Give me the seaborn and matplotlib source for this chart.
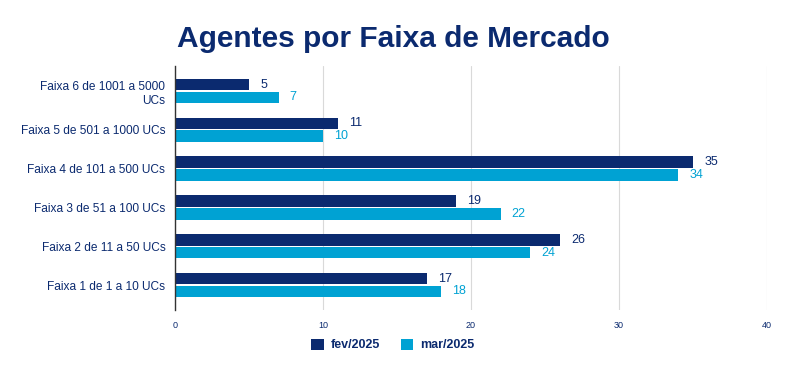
import numpy as np
import pandas as pd
import matplotlib
matplotlib.use("Agg")
import matplotlib.pyplot as plt
import seaborn as sns

# data
faixas = ["Faixa 6 de 1001 a 5000\nUCs", "Faixa 5 de 501 a 1000 UCs", "Faixa 4 de 101 a 500 UCs",
          "Faixa 3 de 51 a 100 UCs", "Faixa 2 de 11 a 50 UCs", "Faixa 1 de 1 a 10 UCs"]
fev = [5, 11, 35, 19, 26, 17]
mar = [7, 10, 34, 22, 24, 18]
series = ["fev/2025", "mar/2025"]
ticks = [0, 10, 20, 30, 40]

navy = "#0B2A6F"
light = "#00A2D3"

df = pd.DataFrame({
    "faixa": faixas * 2,
    "valor": fev + mar,
    "mes": [series[0]] * len(faixas) + [series[1]] * len(faixas),
})

sns.set_style("white")
plt.rcParams["font.family"] = ["Liberation Sans", "DejaVu Sans"]

fig = plt.figure(figsize=(7.86, 3.70), dpi=100)
ax = fig.add_axes([175 / 786, 1 - 310 / 370, (767 - 175) / 786, (310 - 66) / 370])

sns.barplot(data=df, x="valor", y="faixa", hue="mes", order=faixas, hue_order=series,
            palette=[navy, light], saturation=1, width=0.66, gap=0.1, linewidth=0,
            orient="h", ax=ax, legend=True)

for cont, col in zip(ax.containers, [navy, light]):
    ax.bar_label(cont, padding=8, color=col, fontsize=9)

ax.set_xlim(0, 40)
ax.set_ylim(5 + 25 / 38.8, -25 / 38.8)
ax.set_xticks(ticks)
ax.set_xticklabels([str(t) for t in ticks], fontsize=6.5, color=navy)
ax.tick_params(axis="y", labelsize=8.6, colors=navy, length=0, pad=7)
ax.tick_params(axis="x", length=2, pad=6, color="#888888")
for lab in ax.get_yticklabels():
    lab.set_color(navy)
    lab.set_horizontalalignment("right")
    lab.set_linespacing(1.3)
ax.xaxis.grid(True, color="#d9d9d9", linewidth=0.8)
ax.set_axisbelow(True)
for s in ["top", "right", "bottom"]:
    ax.spines[s].set_visible(False)
ax.spines["left"].set_color("#333333")
ax.spines["left"].set_linewidth(1)
ax.set_xlabel("")
ax.set_ylabel("")

leg = ax.legend(loc="center", bbox_to_anchor=(393 / 786, 1 - 345 / 370), bbox_transform=fig.transFigure,
                ncol=2, frameon=False, handlelength=1.0, handleheight=1.0, columnspacing=1.6,
                handletextpad=0.6, prop={"weight": "bold", "size": 9})
for t in leg.get_texts():
    t.set_color(navy)

fig.text(393 / 786, 1 - 39 / 370, "Agentes por Faixa de Mercado", ha="center", va="center",
         fontsize=21.5, fontweight="bold", color=navy)

fig.savefig("out.png", dpi=100)
